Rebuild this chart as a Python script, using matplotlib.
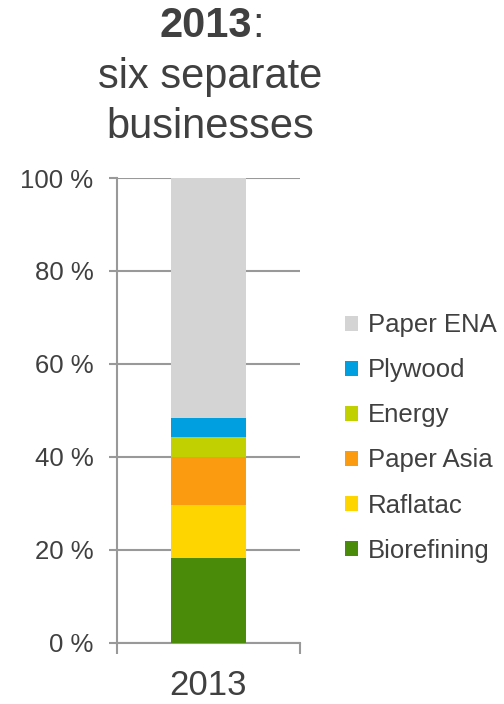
import matplotlib.pyplot as plt
from matplotlib.patches import Patch

plt.rcParams['font.family'] = ['Liberation Sans', 'DejaVu Sans']

# data
segments = ['Biorefining', 'Raflatac', 'Paper Asia', 'Energy', 'Plywood', 'Paper ENA']
shares = [18.2, 11.4, 10.3, 4.3, 4.1, 51.7]
colors = ['#4a8c0a', '#ffd500', '#fa9b10', '#c0d000', '#00a0e0', '#d4d4d4']
year = '2013'
yticks = [0, 20, 40, 60, 80, 100]
ytick_labels = ['0 %', '20 %', '40 %', '60 %', '80 %', '100 %']

txt = '#404040'
grid = '#999999'

fig = plt.figure(figsize=(5.04, 7.04), dpi=100)
ax = fig.add_axes([0.232, 0.0871, 0.363, 0.660])

bottom = 0
for name, val, c in zip(segments, shares, colors):
    ax.bar(0, val, bottom=bottom, width=0.41, color=c, label=name, zorder=3)
    bottom += val

ax.set_xlim(-0.5, 0.5)
ax.set_ylim(0, 100)
ax.set_yticks(yticks)
ax.set_yticklabels(ytick_labels, fontsize=18.5, color=txt)
ax.yaxis.grid(True, color=grid, linewidth=1.5, zorder=0)
ax.tick_params(axis='y', length=6, width=1.5, color=grid, pad=11)

ax.set_xticks([0])
ax.set_xticklabels([year], fontsize=25, color=txt)
ax.set_xticks([-0.5, 0.5], minor=True)
ax.tick_params(axis='x', which='major', length=0, pad=19)
ax.tick_params(axis='x', which='minor', length=8, width=1.5, color=grid)

for s in ['top', 'right']:
    ax.spines[s].set_visible(False)
for s in ['left', 'bottom']:
    ax.spines[s].set_color(grid)
    ax.spines[s].set_linewidth(1.5)

# title, year in bold
split_x = 0.500
fig.text(split_x, 1 - 37 / 704, year, fontsize=30, fontweight='bold', color=txt,
         ha='right', va='baseline')
fig.text(split_x, 1 - 37 / 704, ':', fontsize=30, color=txt, ha='left', va='baseline')
fig.text(0.417, 1 - 88 / 704, 'six separate', fontsize=30, color=txt,
         ha='center', va='baseline')
fig.text(0.417, 1 - 138 / 704, 'businesses', fontsize=30, color=txt,
         ha='center', va='baseline')

handles = [Patch(facecolor=c, label=n) for n, c in zip(segments, colors)][::-1]
fig.legend(handles=handles, loc='upper left', bbox_to_anchor=(0.684, 0.555),
           frameon=False, fontsize=18.5, labelcolor=txt, handlelength=0.52,
           handleheight=0.52, handletextpad=0.38, labelspacing=0.82,
           borderpad=0, borderaxespad=0)

fig.savefig('out.png', dpi=100)
